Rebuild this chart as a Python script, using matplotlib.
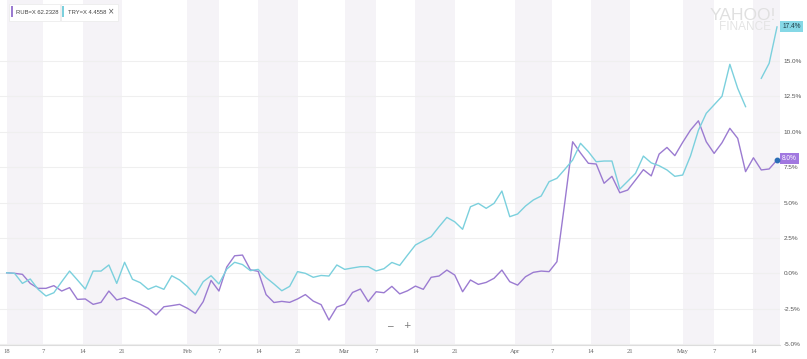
import numpy as np
import pandas as pd
import matplotlib
matplotlib.use("Agg")
import matplotlib.pyplot as plt
from matplotlib.patches import Rectangle

# ---------------- data ----------------
dates = pd.bdate_range("2018-01-01", periods=99)

rub = [0.04, 0.0, -0.07, -0.71, -1.06, -1.06, -0.87, -1.25, -1.01, -1.84,
       -1.81, -2.19, -2.05, -1.25, -1.88, -1.72, -1.96, -2.19, -2.47, -2.94,
       -2.36, -2.28, -2.19, -2.47, -2.82, -2.0, -0.50, -1.25, 0.45, 1.24,
       1.29, 0.25, 0.14, -1.50, -2.06, -1.98, -2.05, -1.81, -1.50, -1.96,
       -2.21, -3.30, -2.38, -2.18, -1.35, -1.11, -2.0, -1.30, -1.37, -0.92,
       -1.45,
       -1.23, -0.90, -1.13, -0.28, -0.19, 0.23, -0.12, -1.30, -0.47, -0.78,
       -0.64, -0.35, 0.23, -0.59, -0.83, -0.24, 0.07, 0.16, 0.12, 0.82,
       5.0, 9.29, 8.5, 7.77, 7.72, 6.36, 6.85, 5.69, 5.88, 6.59,
       7.32, 6.88, 8.42, 8.89, 8.31, 9.25, 10.12, 10.77, 9.29, 8.47,
       9.22, 10.24, 9.53, 7.18, 8.16, 7.30, 7.37, 8.0]

tryx = [0.04, 0.0, -0.71, -0.40, -1.13, -1.60, -1.37, -0.59, 0.16, -0.47,
        -1.11, 0.16, 0.16, 0.59, -0.71, 0.78, -0.42, -0.66, -1.13, -0.90,
        -1.13, -0.17, -0.47, -0.94, -1.53, -0.59, -0.17, -0.75, 0.30, 0.78,
        0.62, 0.19, 0.28, -0.30, -0.75, -1.23, -0.92, 0.12, 0.0, -0.28,
        -0.15, -0.19, 0.59, 0.28, 0.38, 0.47, 0.47, 0.17, 0.33, 0.77,
        0.56,
        1.29, 2.0, 2.30, 2.59, 3.29, 3.95, 3.64, 3.11, 4.70, 4.94,
        4.59, 4.94, 5.81, 4.0, 4.19, 4.75, 5.18, 5.46, 6.47, 6.71,
        7.34, 8.0, 9.18, 8.59, 7.88, 7.93, 7.93, 5.95, 6.5, 7.06,
        8.28, 7.8, 7.6, 7.3, 6.85, 6.94, 8.3, 10.1, 11.3, 11.9,
        12.5, 14.76, 13.06, 11.77, np.nan, 13.77, 14.83, 17.4]

tick_dates = ["2018-01-01", "2018-01-07", "2018-01-14", "2018-01-21",
              "2018-02-01", "2018-02-07", "2018-02-14", "2018-02-21",
              "2018-03-01", "2018-03-07", "2018-03-14", "2018-03-21",
              "2018-04-01", "2018-04-07", "2018-04-14", "2018-04-21",
              "2018-05-01", "2018-05-07", "2018-05-14"]
tick_labels = ["18", "7", "14", "21", "Feb", "7", "14", "21", "Mar", "7",
               "14", "21", "Apr", "7", "14", "21", "May", "7", "14"]

y_ticks = [-5.0, -2.5, 0.0, 2.5, 5.0, 7.5, 10.0, 12.5, 15.0]

rub_name, rub_quote = "RUB=X", "62.2328"
try_name, try_quote = "TRY=X", "4.4558"

# ---------------- figure ----------------
W, H = 807, 359
fig = plt.figure(figsize=(W / 100, H / 100), dpi=100)
ax = fig.add_axes([0, 14 / H, 780 / W, 345 / H])

RUB_C = "#9b7bd1"
TRY_C = "#7bd0dd"

x = np.arange(len(dates))
ax.plot(x, rub, color=RUB_C, lw=1.0, zorder=3)
ax.plot(x, tryx, color=TRY_C, lw=1.0, zorder=3)

xmin, xmax = -0.85, 98.38
ax.set_xlim(xmin, xmax)
ax.set_ylim(-5.06, 19.3)

# tick positions on the business-day index
d_ord = np.array([d.toordinal() for d in dates])
t_ord = np.array([pd.Timestamp(t).toordinal() for t in tick_dates])
tick_pos = np.interp(t_ord, d_ord, x)

# alternating week shading
for k in range(0, len(tick_pos), 2):
    s = tick_pos[k]
    e = tick_pos[k + 1] if k + 1 < len(tick_pos) else xmax
    ax.axvspan(s, e, color="#f5f3f7", lw=0, zorder=0)

ax.set_xticks(tick_pos)
ax.set_xticklabels(tick_labels)
ax.tick_params(axis="x", length=0, pad=2.8, labelsize=4.7, labelcolor="#666666")
for lbl in ax.get_xticklabels():
    lbl.set_fontfamily("Liberation Serif")

ax.yaxis.tick_right()
ax.set_yticks(y_ticks)
ax.set_yticklabels([f"{v:.1f}%" for v in y_ticks])
ax.tick_params(axis="y", length=0, pad=2.5, labelsize=4.6, labelcolor="#555555")
for lbl in ax.get_yticklabels():
    lbl.set_fontfamily("Liberation Sans")
ax.grid(axis="y", color="#efefef", lw=0.8, zorder=1)
ax.set_axisbelow(True)

for sp in ["top", "left", "right"]:
    ax.spines[sp].set_visible(False)
ax.spines["bottom"].set_color("#dddddd")
ax.spines["bottom"].set_linewidth(0.8)

# end value labels
ax.annotate(f"{tryx[-1]:.1f}%", xy=(1, tryx[-1]), xycoords=("axes fraction", "data"),
            xytext=(1.6, 0), textcoords="offset points", ha="left", va="center",
            fontsize=4.7, color="#1f3b44", family="Liberation Sans",
            bbox=dict(boxstyle="square,pad=0.3", fc="#86d8e6", ec="none"),
            annotation_clip=False)
ax.annotate(f"{rub[-1]:.1f}%", xy=(1, rub[-1]), xycoords=("axes fraction", "data"),
            xytext=(1.6, 1), textcoords="offset points", ha="left", va="center",
            fontsize=4.7, color="white", family="Liberation Sans",
            bbox=dict(boxstyle="square,pad=0.3", fc="#a178e0", ec="none"),
            annotation_clip=False)
ax.plot([x[-1]], [rub[-1]], "o", ms=3.2, color="#2a6db5", zorder=4, clip_on=False)


def px_rect(x0, y0, w, h, **kw):
    fig.add_artist(Rectangle((x0 / W, 1 - (y0 + h) / H), w / W, h / H,
                             transform=fig.transFigure, **kw))


# legend chips
px_rect(9, 4, 51, 17, fc="white", ec="#ececec", lw=0.6)
px_rect(60.5, 4, 57, 17, fc="white", ec="#ececec", lw=0.6)
px_rect(10.5, 5.5, 2.2, 11.5, fc=RUB_C, ec="none")
px_rect(62, 5.5, 2.2, 11.5, fc=TRY_C, ec="none")
fig.text(15.5 / W, 1 - 12 / H, f"{rub_name} {rub_quote}", ha="left", va="center",
         fontsize=4.2, color="#444444", family="Liberation Sans")
fig.text(67.5 / W, 1 - 12 / H, f"{try_name} {try_quote}", ha="left", va="center",
         fontsize=4.2, color="#444444", family="Liberation Sans")
fig.text(111.5 / W, 1 - 12 / H, "×", ha="center", va="center",
         fontsize=5.5, color="#555555", family="DejaVu Sans")

# watermark
fig.text(743 / W, 1 - 15 / H, "YAHOO!", ha="center", va="center",
         fontsize=12.5, color="#e0e0e0", family="Liberation Sans")
fig.text(745 / W, 1 - 27.5 / H, "FINANCE", ha="center", va="center",
         fontsize=8.5, color="#e4e4e4", family="Liberation Sans")

# zoom control
fig.text(390 / W, 1 - 326 / H, "−", ha="center", va="center",
         fontsize=6.5, color="#777777", family="DejaVu Sans")
fig.text(407 / W, 1 - 326 / H, "+", ha="center", va="center",
         fontsize=6.5, color="#777777", family="DejaVu Sans")
px_rect(398.5, 321, 0.6, 10, fc="#d8d8d8", ec="none")

fig.savefig("out.png", dpi=100)
